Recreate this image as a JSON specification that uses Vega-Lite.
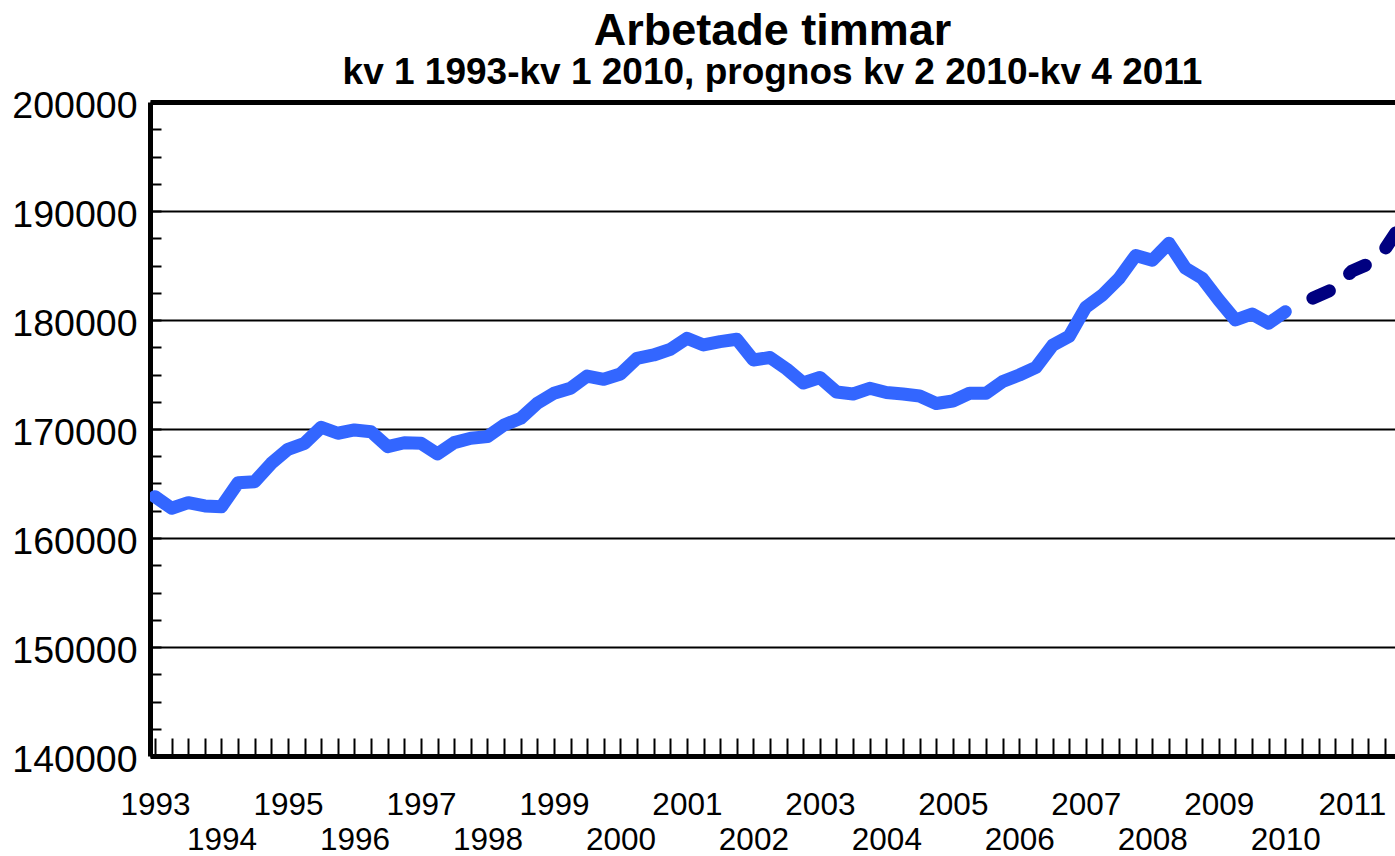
{
  "$schema": "https://vega.github.io/schema/vega-lite/v6.json",
  "width": 1245,
  "height": 654,
  "autosize": {"type": "none"},
  "padding": {"left": 150, "top": 102, "right": 0, "bottom": 100},
  "background": "white",
  "config": {"view": {"stroke": null}, "font": "Liberation Sans"},
  "title": {
    "text": "Arbetade timmar",
    "subtitle": "kv 1 1993-kv 1 2010, prognos kv 2 2010-kv 4 2011",
    "anchor": "middle",
    "frame": "group",
    "font": "Liberation Sans",
    "fontSize": 45,
    "fontWeight": "bold",
    "color": "black",
    "subtitleFont": "Liberation Sans",
    "subtitleFontSize": 37,
    "subtitleFontWeight": "bold",
    "subtitleColor": "black",
    "subtitlePadding": 1,
    "offset": -4
  },
  "data": {
    "values": [
      {"q": 0, "timmar": 163790, "serie": "Utfall"},
      {"q": 1, "timmar": 162730, "serie": "Utfall"},
      {"q": 2, "timmar": 163240, "serie": "Utfall"},
      {"q": 3, "timmar": 162940, "serie": "Utfall"},
      {"q": 4, "timmar": 162870, "serie": "Utfall"},
      {"q": 5, "timmar": 165075, "serie": "Utfall"},
      {"q": 6, "timmar": 165170, "serie": "Utfall"},
      {"q": 7, "timmar": 166850, "serie": "Utfall"},
      {"q": 8, "timmar": 168140, "serie": "Utfall"},
      {"q": 9, "timmar": 168690, "serie": "Utfall"},
      {"q": 10, "timmar": 170160, "serie": "Utfall"},
      {"q": 11, "timmar": 169610, "serie": "Utfall"},
      {"q": 12, "timmar": 169910, "serie": "Utfall"},
      {"q": 13, "timmar": 169750, "serie": "Utfall"},
      {"q": 14, "timmar": 168380, "serie": "Utfall"},
      {"q": 15, "timmar": 168740, "serie": "Utfall"},
      {"q": 16, "timmar": 168690, "serie": "Utfall"},
      {"q": 17, "timmar": 167710, "serie": "Utfall"},
      {"q": 18, "timmar": 168750, "serie": "Utfall"},
      {"q": 19, "timmar": 169150, "serie": "Utfall"},
      {"q": 20, "timmar": 169300, "serie": "Utfall"},
      {"q": 21, "timmar": 170370, "serie": "Utfall"},
      {"q": 22, "timmar": 170980, "serie": "Utfall"},
      {"q": 23, "timmar": 172360, "serie": "Utfall"},
      {"q": 24, "timmar": 173280, "serie": "Utfall"},
      {"q": 25, "timmar": 173735, "serie": "Utfall"},
      {"q": 26, "timmar": 174860, "serie": "Utfall"},
      {"q": 27, "timmar": 174560, "serie": "Utfall"},
      {"q": 28, "timmar": 175050, "serie": "Utfall"},
      {"q": 29, "timmar": 176490, "serie": "Utfall"},
      {"q": 30, "timmar": 176790, "serie": "Utfall"},
      {"q": 31, "timmar": 177310, "serie": "Utfall"},
      {"q": 32, "timmar": 178320, "serie": "Utfall"},
      {"q": 33, "timmar": 177710, "serie": "Utfall"},
      {"q": 34, "timmar": 178010, "serie": "Utfall"},
      {"q": 35, "timmar": 178230, "serie": "Utfall"},
      {"q": 36, "timmar": 176330, "serie": "Utfall"},
      {"q": 37, "timmar": 176560, "serie": "Utfall"},
      {"q": 38, "timmar": 175505, "serie": "Utfall"},
      {"q": 39, "timmar": 174220, "serie": "Utfall"},
      {"q": 40, "timmar": 174725, "serie": "Utfall"},
      {"q": 41, "timmar": 173395, "serie": "Utfall"},
      {"q": 42, "timmar": 173210, "serie": "Utfall"},
      {"q": 43, "timmar": 173735, "serie": "Utfall"},
      {"q": 44, "timmar": 173350, "serie": "Utfall"},
      {"q": 45, "timmar": 173210, "serie": "Utfall"},
      {"q": 46, "timmar": 173030, "serie": "Utfall"},
      {"q": 47, "timmar": 172340, "serie": "Utfall"},
      {"q": 48, "timmar": 172570, "serie": "Utfall"},
      {"q": 49, "timmar": 173280, "serie": "Utfall"},
      {"q": 50, "timmar": 173280, "serie": "Utfall"},
      {"q": 51, "timmar": 174360, "serie": "Utfall"},
      {"q": 52, "timmar": 174955, "serie": "Utfall"},
      {"q": 53, "timmar": 175650, "serie": "Utfall"},
      {"q": 54, "timmar": 177680, "serie": "Utfall"},
      {"q": 55, "timmar": 178515, "serie": "Utfall"},
      {"q": 56, "timmar": 181180, "serie": "Utfall"},
      {"q": 57, "timmar": 182295, "serie": "Utfall"},
      {"q": 58, "timmar": 183825, "serie": "Utfall"},
      {"q": 59, "timmar": 185920, "serie": "Utfall"},
      {"q": 60, "timmar": 185480, "serie": "Utfall"},
      {"q": 61, "timmar": 187040, "serie": "Utfall"},
      {"q": 62, "timmar": 184745, "serie": "Utfall"},
      {"q": 63, "timmar": 183825, "serie": "Utfall"},
      {"q": 64, "timmar": 181835, "serie": "Utfall"},
      {"q": 65, "timmar": 180000, "serie": "Utfall"},
      {"q": 66, "timmar": 180550, "serie": "Utfall"},
      {"q": 67, "timmar": 179700, "serie": "Utfall"},
      {"q": 68, "timmar": 180760, "serie": "Utfall"},
      {"q": 69, "timmar": 181560, "serie": "Prognos"},
      {"q": 70, "timmar": 182240, "serie": "Prognos"},
      {"q": 71, "timmar": 182910, "serie": "Prognos"},
      {"q": 72, "timmar": 184480, "serie": "Prognos"},
      {"q": 73, "timmar": 185150, "serie": "Prognos"},
      {"q": 74, "timmar": 186510, "serie": "Prognos"},
      {"q": 75, "timmar": 188810, "serie": "Prognos"}
    ]
  },
  "encoding": {
    "x": {
      "field": "q",
      "type": "quantitative",
      "scale": {"domain": [-0.3, 74.6], "nice": false, "zero": false},
      "axis": {
        "title": null,
        "values": [0,1,2,3,4,5,6,7,8,9,10,11,12,13,14,15,16,17,18,19,20,21,22,23,24,25,26,27,28,29,30,31,32,33,34,35,36,37,38,39,40,41,42,43,44,45,46,47,48,49,50,51,52,53,54,55,56,57,58,59,60,61,62,63,64,65,66,67,68,69,70,71,72,73,74],
        "labelExpr": "datum.value % 4 == 0 ? '' + (1993 + datum.value / 4) : ''",
        "labelPadding": {"condition": {"test": "datum.value % 8 == 4", "value": 86}, "value": 51},
        "labelFont": "Liberation Sans",
        "labelFontSize": 31.5,
        "labelColor": "black",
        "labelAngle": 0,
        "labelOverlap": false,
        "labelFlush": false,
        "labelBound": false,
        "tickSize": -18,
        "tickWidth": 2,
        "tickColor": "black",
        "domainWidth": 5,
        "domainColor": "black",
        "grid": false
      }
    },
    "y": {
      "field": "timmar",
      "type": "quantitative",
      "scale": {"domain": [140000, 200000], "nice": false, "zero": false},
      "axis": {
        "title": null,
        "values": [140000,142500,145000,147500,150000,152500,155000,157500,160000,162500,165000,167500,170000,172500,175000,177500,180000,182500,185000,187500,190000,192500,195000,197500,200000],
        "labelExpr": "datum.value % 10000 == 0 ? '' + datum.value : ''",
        "labelFont": "Liberation Sans",
        "labelFontSize": 37.5,
        "labelColor": "black",
        "labelPadding": 24,
        "labelOffset": 4,
        "labelOverlap": false,
        "labelBound": false,
        "labelFlush": false,
        "tickSize": -11,
        "tickWidth": 2,
        "tickColor": "black",
        "domainWidth": 5,
        "domainColor": "black",
        "grid": true,
        "gridColor": "black",
        "gridOpacity": {"condition": {"test": "datum.value % 10000 == 0", "value": 1}, "value": 0},
        "gridWidth": {"condition": {"test": "datum.value == 200000", "value": 5}, "value": 2}
      }
    }
  },
  "layer": [
    {
      "transform": [{"filter": "datum.serie == 'Utfall'"}],
      "mark": {"type": "line", "color": "#3366FF", "strokeWidth": 13, "strokeJoin": "round", "strokeCap": "round", "clip": true}
    },
    {
      "transform": [{"filter": "datum.serie == 'Prognos'"}],
      "mark": {"type": "line", "color": "#000080", "strokeWidth": 13, "strokeJoin": "round", "strokeCap": "round", "strokeDash": [18, 27], "strokeDashOffset": 33, "clip": true}
    }
  ]
}
